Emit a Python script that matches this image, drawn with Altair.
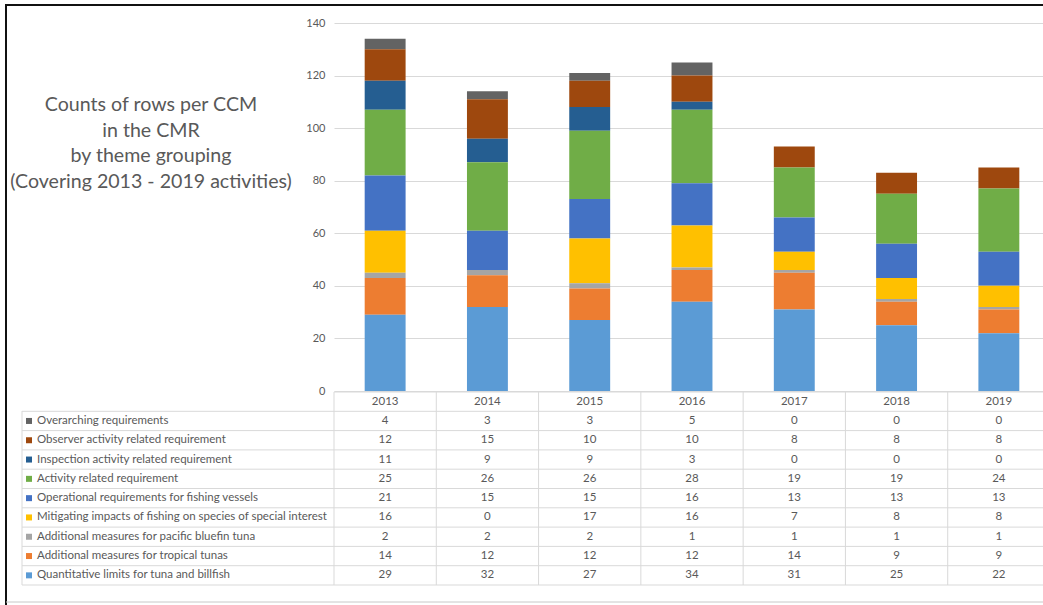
import altair as alt
import pandas as pd

# ---- data ---------------------------------------------------------------
years = ["2013", "2014", "2015", "2016", "2017", "2018", "2019"]

# table order (top row first); stacks are drawn in the reverse order
series = [
    "Overarching requirements",
    "Observer activity related requirement",
    "Inspection activity related requirement",
    "Activity related requirement",
    "Operational requirements for fishing vessels",
    "Mitigating impacts of fishing on species of special interest",
    "Additional measures for pacific bluefin tuna",
    "Additional measures for tropical tunas",
    "Quantitative limits for tuna and billfish",
]

overarching = [4, 3, 3, 5, 0, 0, 0]
observer = [12, 15, 10, 10, 8, 8, 8]
inspection = [11, 9, 9, 3, 0, 0, 0]
activity = [25, 26, 26, 28, 19, 19, 24]
operational = [21, 15, 15, 16, 13, 13, 13]
mitigating = [16, 0, 17, 16, 7, 8, 8]
bluefin = [2, 2, 2, 1, 1, 1, 1]
tropical = [14, 12, 12, 12, 14, 9, 9]
quantitative = [29, 32, 27, 34, 31, 25, 22]

values = [overarching, observer, inspection, activity, operational,
          mitigating, bluefin, tropical, quantitative]

colors = ["#636363", "#9E480E", "#255E91", "#70AD47", "#4472C4",
          "#FFC000", "#A5A5A5", "#ED7D31", "#5B9BD5"]

y_ticks = [0, 20, 40, 60, 80, 100, 120, 140]

title_lines = ["Counts of rows per CCM", "in the CMR", "by theme grouping",
               "(Covering 2013 - 2019 activities)"]

# ---- long-form tables -----------------------------------------------------
rows = []
for i, (name, vals) in enumerate(zip(series, values)):
    for yr, v in zip(years, vals):
        rows.append({"year": yr, "series": name, "value": v,
                     "k": len(series) - 1 - i})
df = pd.DataFrame(rows)
header_df = pd.DataFrame({"year": years, "row": ["hdr"] * len(years)})
label_df = pd.DataFrame({"series": series})
year_df = pd.DataFrame({"year": years})

# ---- geometry -------------------------------------------------------------
W, H = 709, 582          # drawing area (plus padding gives 1043 x 605)
PLOT_H = 368             # height of the bar panel
ROW_TOP, ROW_BOT = 369, 562
LAB_X = -312             # left edge of the label column
TXT = "#595959"
GRID = "#d9d9d9"
FONT = "Lato"
TABLE_FS = 11.5

x_scale = alt.Scale(domain=years, range=[0, 716], paddingInner=0, paddingOuter=0)
row_scale = alt.Scale(domain=["hdr"] + series, range=[ROW_TOP, ROW_BOT],
                      paddingInner=0, paddingOuter=0)
color_scale = alt.Scale(domain=series, range=colors)

# ---- stacked columns ------------------------------------------------------
bars = alt.Chart(df).mark_bar(width=alt.RelativeBandSize(0.4)).encode(
    x=alt.X("year:N", scale=x_scale, axis=None),
    y=alt.Y("value:Q", stack="zero",
            scale=alt.Scale(domain=[0, 140], range=[PLOT_H, 0], nice=False),
            axis=alt.Axis(values=y_ticks, grid=True, gridColor=GRID,
                          domain=False, ticks=False, labelColor=TXT,
                          labelFont=FONT, labelFontSize=11, labelPadding=9,
                          title=None)),
    color=alt.Color("series:N", scale=color_scale, legend=None),
    order=alt.Order("k:Q", sort="ascending"),
)

# ---- data table -----------------------------------------------------------
cell_text = alt.Chart(df).mark_text(font=FONT, fontSize=TABLE_FS, color=TXT).encode(
    x=alt.X("year:N", scale=x_scale, axis=None),
    y=alt.Y("series:N", scale=row_scale, axis=None),
    text=alt.Text("value:Q"),
)

header_text = alt.Chart(header_df).mark_text(font=FONT, fontSize=TABLE_FS, color=TXT).encode(
    x=alt.X("year:N", scale=x_scale, axis=None),
    y=alt.Y("row:N", scale=row_scale, axis=None),
    text=alt.Text("year:N"),
)

label_text = alt.Chart(label_df).mark_text(
    font=FONT, fontSize=TABLE_FS, color=TXT, align="left").encode(
    x=alt.value(LAB_X + 15),
    y=alt.Y("series:N", scale=row_scale, axis=None),
    text=alt.Text("series:N"),
)

swatches = alt.Chart(label_df).mark_square(size=36, opacity=1).encode(
    x=alt.value(LAB_X + 7),
    y=alt.Y("series:N", scale=row_scale, axis=None),
    color=alt.Color("series:N", scale=color_scale, legend=None),
)

row_lines = alt.Chart(label_df).mark_rule(color=GRID, strokeWidth=1).encode(
    x=alt.value(LAB_X), x2=alt.value(W),
    y=alt.Y("series:N", scale=row_scale, axis=None, bandPosition=0),
)

last_line = alt.Chart(label_df.tail(1)).mark_rule(color=GRID, strokeWidth=1).encode(
    x=alt.value(LAB_X), x2=alt.value(W),
    y=alt.Y("series:N", scale=row_scale, axis=None, bandPosition=1),
)

header_line = alt.Chart(header_df.head(1)).mark_rule(color=GRID, strokeWidth=1).encode(
    x=alt.value(0), x2=alt.value(W),
    y=alt.Y("row:N", scale=row_scale, axis=None, bandPosition=0),
)

col_lines = alt.Chart(year_df).mark_rule(color=GRID, strokeWidth=1).encode(
    x=alt.X("year:N", scale=x_scale, axis=None, bandPosition=0),
    y=alt.value(ROW_TOP), y2=alt.value(ROW_BOT),
)

label_edge = alt.Chart(alt.Data(values=[{}])).mark_rule(color=GRID, strokeWidth=1).encode(
    x=alt.value(LAB_X), y=alt.value(ROW_TOP + 19), y2=alt.value(ROW_BOT),
)

# ---- title block on the left ---------------------------------------------
title = alt.Chart(alt.Data(values=[{"t": "\n".join(title_lines)}])).mark_text(
    font=FONT, fontSize=19.6, color=TXT, align="center", baseline="alphabetic",
    lineBreak="\n", lineHeight=25.7).encode(
    x=alt.value(-183), y=alt.value(88), text=alt.Text("t:N"),
)

# ---- outer frame ----------------------------------------------------------
frame_top = alt.Chart(alt.Data(values=[{}])).mark_rule(color="#111111", strokeWidth=2).encode(
    x=alt.value(-329), x2=alt.value(W), y=alt.value(-18),
)
frame_left = alt.Chart(alt.Data(values=[{}])).mark_rule(color="#111111", strokeWidth=2).encode(
    x=alt.value(-328), y=alt.value(-18), y2=alt.value(H),
)
frame_bottom = alt.Chart(alt.Data(values=[{}])).mark_rule(color="#c8c8c8", strokeWidth=1).encode(
    x=alt.value(-328), x2=alt.value(W), y=alt.value(579),
)

chart = alt.layer(
    bars, row_lines, last_line, header_line, col_lines, label_edge,
    cell_text, header_text, label_text, swatches, title,
    frame_top, frame_left, frame_bottom,
).resolve_scale(y="independent").properties(
    width=W, height=H,
    autosize=alt.AutoSizeParams(type="none"),
    padding={"left": 334, "top": 23, "right": 0, "bottom": 0},
).configure(background="white").configure_view(stroke=None)

chart.save("out.html", embed_options={"renderer": "svg", "actions": False})
